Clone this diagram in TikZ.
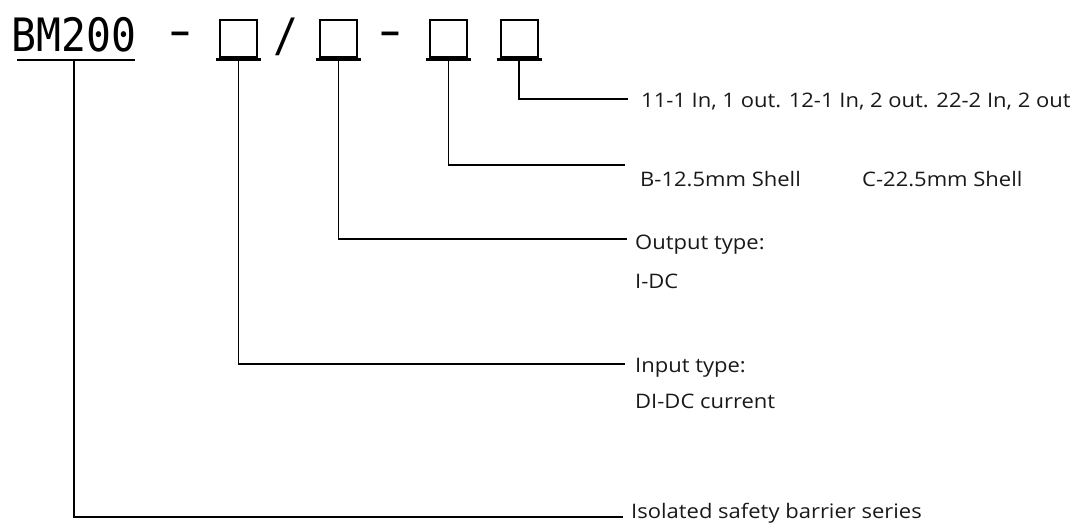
\documentclass[tikz,border=0pt]{standalone}
\usepackage{fontspec}
\setmainfont[FakeStretch=1.1]{Open Sans}
\newfontfamily\codefont[FakeStretch=0.9]{DejaVu Sans Mono}
\usetikzlibrary{positioning}
\tikzset{
  code/.style={font=\codefont\fontsize{46}{46}\selectfont,inner sep=0pt,anchor=base},
  slot/.style={draw,line width=2pt,minimum size=37pt,inner sep=0pt},
  bar/.style={line width=3pt},
  lead/.style={line width=1.5pt},
  lbl/.style={font=\fontsize{20}{24}\selectfont,inner sep=0pt,anchor=base west,text=black!90},
}

\begin{document}
\begin{tikzpicture}[x=1pt,y=-1pt]
\useasboundingbox (0,0) rectangle (1082,524);
% model code
\node[code] (bm) at (74,52) {BM200};
\node[code] (d1) at (180,47) {\scalebox{1.6}[1]{-}};
\node[code] (sl) at (286,52) {/};
\node[code] (d2) at (390,47) {\scalebox{1.6}[1]{-}};
\foreach \n/\x in {1/238.5,2/338.5,3/448.5,4/519}
  \node[slot] (s\n) at (\x,38.5) {};
\draw[line width=2pt] ([xshift=-57pt,yshift=-8pt]bm.base) -- ([xshift=61pt,yshift=-8pt]bm.base);
\foreach \n in {1,...,4}
  \draw[bar] ([xshift=-22.5pt,yshift=-2pt]s\n.south) -- ([xshift=22.5pt,yshift=-2pt]s\n.south);
% leader ends
\coordinate (e0) at (623,517);
\coordinate (e1) at (625,364);
\coordinate (e2) at (627,239);
\coordinate (e3) at (625,165);
\coordinate (e4) at (628,99);
\draw[lead] ([yshift=-8pt]bm.base) |- (e0);
\foreach \n in {1,...,4}
  \draw[lead] ([yshift=-2pt]s\n.south) |- (e\n);
% labels
\node[lbl] (t0) at (631,518) {Isolated safety barrier series};
\node[lbl] (t1) at (635,372) {Input type:};
\node[lbl] (t1b) at (635,408) {DI-DC current};
\node[lbl] (t2) at (635,249) {Output type:};
\node[lbl] (t2b) at (635,288) {I-DC};
\node[lbl] (t3) at (640,186) {B-12.5mm Shell};
\node[lbl] (t3b) at (862,186) {C-22.5mm Shell};
\node[lbl] (t4) at (641,108) {11-1 In, 1 out. 12-1 In, 2 out. 22-2 In, 2 out};
\end{tikzpicture}
\end{document}
